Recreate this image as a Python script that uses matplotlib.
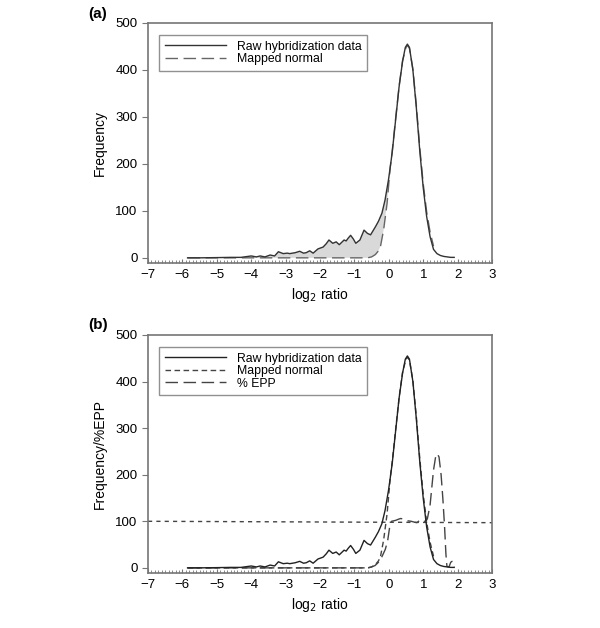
import numpy as np
import matplotlib.pyplot as plt
from matplotlib.ticker import MultipleLocator

plt.rcParams['font.family'] = ['Liberation Sans', 'DejaVu Sans']

# raw hybridization histogram (log2 ratio, frequency)
raw_x = [-5.85, -5.5, -5.0, -4.6, -4.3, -4.0, -3.85, -3.74, -3.6, -3.45, -3.32, -3.21,
         -3.07, -2.95, -2.88, -2.72, -2.59, -2.48, -2.40, -2.30, -2.20, -2.06, -1.91,
         -1.82, -1.74, -1.63, -1.53, -1.44, -1.30, -1.24, -1.18, -1.11, -1.03, -0.96,
         -0.84, -0.72, -0.62, -0.53, -0.39, -0.30, -0.20, -0.11, -0.01, 0.04, 0.10,
         0.20, 0.30, 0.40, 0.48, 0.54, 0.60, 0.70, 0.80, 0.90, 1.00, 1.10, 1.20, 1.30,
         1.40, 1.50, 1.60, 1.70, 1.80, 1.90]
raw_y = [0, 0, 0.5, 1, 1, 4, 2, 4, 2, 6, 4, 13,
         9, 10, 9, 11, 14, 10, 11, 15, 10, 19, 23,
         30, 38, 31, 34, 28, 38, 36, 42, 48, 40, 31,
         38, 59, 52, 49, 66, 78, 95, 123, 166, 192, 225,
         295, 365, 418, 448, 455, 448, 400, 320, 228, 150, 88, 45, 18,
         9, 5, 3, 2, 1, 1]

# mapped normal curve
norm_x = [-5.85, -0.62, -0.5, -0.39, -0.3, -0.24, -0.15, -0.05, 0.04, 0.1, 0.2, 0.3,
          0.4, 0.5, 0.55, 0.6, 0.7, 0.8, 0.9, 1.0, 1.1, 1.2, 1.3]
norm_y = [0, 0, 2, 7, 15, 25, 60, 116, 192, 228, 298, 366,
          420, 448, 452, 446, 402, 325, 235, 158, 98, 55, 25]

# % EPP
epp_x = [-5.85, -0.6, -0.5, -0.4, -0.3, -0.2, -0.1, -0.03, 0.02, 0.08, 0.2, 0.3, 0.35,
         0.45, 0.55, 0.65, 0.75, 0.82, 0.88, 0.93, 0.98, 1.05, 1.12, 1.2, 1.3, 1.36,
         1.41, 1.46, 1.52, 1.57, 1.62, 1.66, 1.69, 1.75, 1.8, 1.84, 1.88, 1.9]
epp_y = [0, 0, 2, 5, 12, 24, 40, 60, 85, 100, 102, 105, 106,
         104, 101, 100, 98, 97, 101, 102, 99, 100, 105, 135, 210, 238,
         245, 238, 200, 150, 90, 30, 3, 2, 12, 14, 3, 1]

# 100% reference line
ref_x = [-7, 3]
ref_y = [100, 97]

frame = '#767676'


def style_axes(ax, ylabel):
    ax.set_xlim(-7, 3)
    ax.set_ylim(-11, 500)
    ax.xaxis.set_minor_locator(MultipleLocator(0.1))
    ax.yaxis.set_major_locator(MultipleLocator(100))
    ax.set_xticks(range(-7, 4))
    ax.set_xticklabels(['\u22127', '\u22126', '\u22125', '\u22124', '\u22123', '\u22122',
                        '\u22121', '0', '1', '2', '3'])
    ax.tick_params(axis='x', which='major', direction='in', length=3, color=frame,
                   labelsize=9.5, pad=4)
    ax.tick_params(axis='x', which='minor', direction='in', length=2, color=frame)
    ax.tick_params(axis='y', direction='out', length=4, color=frame, labelsize=9.5)
    for s in ax.spines.values():
        s.set_color(frame)
        s.set_linewidth(1.2)
    ax.set_xlabel('log$_2$ ratio', fontsize=10, labelpad=4)
    ax.set_ylabel(ylabel, fontsize=10, labelpad=6)


def add_legend(ax):
    leg = ax.legend(loc='upper left', bbox_to_anchor=(0.015, 0.975), fontsize=8.8,
                    frameon=True, fancybox=False, handlelength=5.0, borderpad=0.45,
                    labelspacing=0.05, handletextpad=0.9)
    leg.get_frame().set_edgecolor(frame)
    leg.get_frame().set_linewidth(1.0)


fig = plt.figure(figsize=(6, 6.28), dpi=100)
ax1 = fig.add_axes([0.2467, 0.5812, 0.5733, 0.3822])
ax2 = fig.add_axes([0.2467, 0.0876, 0.5733, 0.3790])

# (a)
fx = [x for x in raw_x if x <= 0.04]
fy = raw_y[:len(fx)]
nx = [x for x in norm_x if x <= 0.04]
ny = norm_y[:len(nx)]
ax1.fill(fx + nx[::-1], fy + ny[::-1], color='#d9d9d9', lw=0, zorder=1)
ax1.plot(raw_x, raw_y, color='#333333', lw=1.0, label='Raw hybridization data',
         zorder=3, solid_joinstyle='round')
ax1.plot(norm_x, norm_y, color='#666666', lw=1.0, dashes=(9, 4),
         label='Mapped normal', zorder=2)
style_axes(ax1, 'Frequency')
add_legend(ax1)

# (b)
ax2.plot(raw_x, raw_y, color='#222222', lw=1.0, label='Raw hybridization data',
         zorder=3, solid_joinstyle='round')
ax2.plot(norm_x, norm_y, color='#444444', lw=1.0, dashes=(4, 2.5),
         label='Mapped normal', zorder=2)
ax2.plot(epp_x, epp_y, color='#444444', lw=1.0, dashes=(9, 4), label='% EPP', zorder=2)
ax2.plot(ref_x, ref_y, color='#444444', lw=1.0, dashes=(3, 3), zorder=1)
style_axes(ax2, 'Frequency/%EPP')
add_legend(ax2)

fig.text(0.147, 0.978, '(a)', fontsize=11, fontweight='bold', va='center')
fig.text(0.147, 0.483, '(b)', fontsize=11, fontweight='bold', va='center')

fig.savefig('out.png', dpi=100)
